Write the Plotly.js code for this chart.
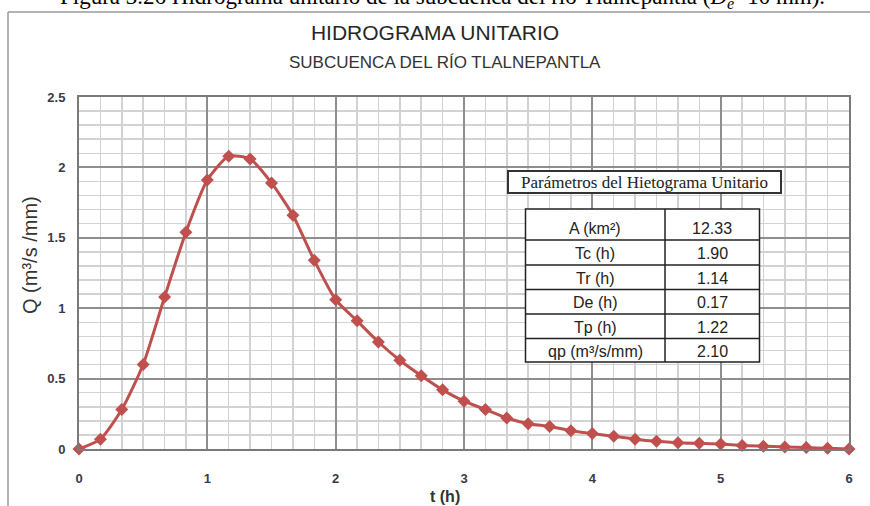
<!DOCTYPE html>
<html>
<head>
<meta charset="utf-8">
<script src="https://cdn.plot.ly/plotly-3.0.1.min.js"></script>
<style>html,body{margin:0;padding:0;background:#fff;}#chart{width:870px;height:506px;}</style>
</head>
<body>
<div id="chart"></div>
<script>
// ---- data ----
const tHours = [0, 0.167, 0.333, 0.5, 0.667, 0.833, 1.0, 1.167, 1.333, 1.5, 1.667, 1.833,
  2.0, 2.167, 2.333, 2.5, 2.667, 2.833, 3.0, 3.167, 3.333, 3.5, 3.667, 3.833,
  4.0, 4.167, 4.333, 4.5, 4.667, 4.833, 5.0, 5.167, 5.333, 5.5, 5.667, 5.833, 6.0];
const qValues = [0, 0.07, 0.28, 0.60, 1.08, 1.54, 1.91, 2.08, 2.06, 1.89, 1.66, 1.34,
  1.06, 0.91, 0.76, 0.63, 0.52, 0.42, 0.34, 0.28, 0.22, 0.18, 0.16, 0.13,
  0.11, 0.09, 0.07, 0.055, 0.045, 0.04, 0.035, 0.025, 0.02, 0.015, 0.01, 0.005, 0];
const paramNames = ["A (km²)", "Tc (h)", "Tr (h)", "De (h)", "Tp (h)", "qp (m³/s/mm)"];
const paramValues = ["12.33", "1.90", "1.14", "0.17", "1.22", "2.10"];
const tableTitle = "Parámetros del Hietograma Unitario";
const chartTitle = "HIDROGRAMA UNITARIO";
const chartSubtitle = "SUBCUENCA DEL RÍO TLALNEPANTLA";
const caption = "Figura 3.26 Hidrograma unitario de la subcuenca del río Tlalnepantla (<i>D</i><sub><i>e</i></sub>=10 mm).";

// ---- layout helpers (pixel -> paper) ----
const M = {l: 79, r: 21, t: 97, b: 57};
const W = 870, H = 506;
const PW = W - M.l - M.r, PH = H - M.t - M.b;
const px = x => (x - M.l) / PW;
const py = y => (H - M.b - y) / PH;

const RED = "#C0504D";
const calibri = "Liberation Sans Narrow, Arial Narrow, Liberation Sans, sans-serif";

// minor grid positions (skip the major ones)
const xMinor = [];
for (let k = 0; k <= 36; k++) if (k % 6 !== 0) xMinor.push(k / 6);
const yMinor = [];
for (let k = 0; k <= 25; k++) if (k % 5 !== 0) yMinor.push(k / 10);

const trace = {
  x: tHours, y: qValues, type: "scatter", mode: "lines+markers",
  line: {color: RED, width: 3, shape: "spline", smoothing: 0.6},
  marker: {symbol: "diamond", size: 10, color: RED},
  cliponaxis: false, hoverinfo: "x+y"
};

const shapes = [];
const annotations = [];

// outer chart frame (top & left edges)
shapes.push({type: "line", xref: "paper", yref: "paper", x0: px(8), x1: px(870), y0: py(12), y1: py(12), line: {color: "#9a9a9a", width: 1.5}});
shapes.push({type: "line", xref: "paper", yref: "paper", x0: px(8), x1: px(8), y0: py(12), y1: py(520), line: {color: "#9a9a9a", width: 1.5}});

// table title box
shapes.push({type: "rect", xref: "paper", yref: "paper", x0: px(508), x1: px(781), y0: py(193), y1: py(171), fillcolor: "#ffffff", line: {color: "#333", width: 2}, layer: "above"});
annotations.push({xref: "paper", yref: "paper", x: px(644.5), y: py(182), text: tableTitle, showarrow: false,
  font: {family: "Liberation Serif, Times New Roman, serif", size: 17, color: "#222"}, xanchor: "center", yanchor: "middle"});

// parameter table
const rowEdges = [209, 240, 265, 289.5, 314, 338.5, 362];
const colL = 525.5, colM = 665, colR = 759.5;
shapes.push({type: "rect", xref: "paper", yref: "paper", x0: px(colL), x1: px(colR), y0: py(rowEdges[rowEdges.length - 1]), y1: py(rowEdges[0]), fillcolor: "#ffffff", line: {color: "#222", width: 1.5}, layer: "above"});
shapes.push({type: "line", xref: "paper", yref: "paper", x0: px(colM), x1: px(colM), y0: py(rowEdges[rowEdges.length - 1]), y1: py(rowEdges[0]), line: {color: "#222", width: 1.5}, layer: "above"});
for (let i = 1; i < rowEdges.length - 1; i++) {
  shapes.push({type: "line", xref: "paper", yref: "paper", x0: px(colL), x1: px(colR), y0: py(rowEdges[i]), y1: py(rowEdges[i]), line: {color: "#222", width: 1.5}, layer: "above"});
}
for (let i = 0; i < paramNames.length; i++) {
  const yc = i === 0 ? 228 : (rowEdges[i] + rowEdges[i + 1]) / 2 + 1;
  annotations.push({xref: "paper", yref: "paper", x: px((colL + colM) / 2), y: py(yc), text: paramNames[i], showarrow: false,
    font: {family: calibri, size: 16, color: "#222"}, xanchor: "center", yanchor: "middle"});
  annotations.push({xref: "paper", yref: "paper", x: px((colM + colR) / 2), y: py(yc), text: paramValues[i], showarrow: false,
    font: {family: calibri, size: 16, color: "#222"}, xanchor: "center", yanchor: "middle"});
}

// subtitle
annotations.push({xref: "paper", yref: "paper", x: px(445), y: py(62), text: chartSubtitle, showarrow: false,
  font: {family: calibri, size: 17, color: "#333"}, xanchor: "center", yanchor: "middle"});
// caption (cut off at top of page, as in the source)
annotations.push({xref: "paper", yref: "paper", x: px(442), y: py(14), text: caption, showarrow: false,
  font: {family: "Liberation Serif, Times New Roman, serif", size: 23, color: "#000"}, xanchor: "center", yanchor: "bottom"});
// axis titles
annotations.push({xref: "paper", yref: "paper", x: px(30), y: py(255), text: "Q (m³/s /mm)", textangle: -90, showarrow: false,
  font: {family: calibri, size: 20, color: "#333"}, xanchor: "center", yanchor: "middle"});
annotations.push({xref: "paper", yref: "paper", x: px(445), y: py(496), text: "<b>t (h)</b>", showarrow: false,
  font: {family: calibri, size: 16, color: "#333"}, xanchor: "center", yanchor: "middle"});

const axisCommon = {
  showline: true, mirror: true, linecolor: "#7a7a7a", linewidth: 2,
  showgrid: true, gridcolor: "#8e8e8e", gridwidth: 2,
  zeroline: false, ticks: "", fixedrange: true,
  tickfont: {family: "Liberation Sans, Arial, sans-serif", size: 13, color: "#3a3a4a", weight: "bold"}
};

const layout = {
  width: W, height: H,
  margin: M,
  paper_bgcolor: "#ffffff", plot_bgcolor: "#ffffff",
  showlegend: false,
  title: {text: chartTitle, x: 0.5, xref: "container", xanchor: "center", y: 1 - 33 / H, yref: "container", yanchor: "middle",
    font: {family: calibri, size: 21, color: "#262626"}},
  xaxis: Object.assign({}, axisCommon, {
    range: [0, 6], tick0: 0, dtick: 1, ticklabelstandoff: 16,
    minor: {tickmode: "array", tickvals: xMinor, showgrid: true, gridcolor: "#d2d2d2", gridwidth: 1.5, ticks: ""}
  }),
  yaxis: Object.assign({}, axisCommon, {
    range: [0, 2.5], tick0: 0, dtick: 0.5, ticklabelstandoff: 9,
    minor: {tickmode: "array", tickvals: yMinor, showgrid: true, gridcolor: "#d2d2d2", gridwidth: 1.5, ticks: ""}
  }),
  shapes: shapes,
  annotations: annotations
};

Plotly.newPlot("chart", [trace], layout, {displayModeBar: false, staticPlot: true});
</script>
</body>
</html>
